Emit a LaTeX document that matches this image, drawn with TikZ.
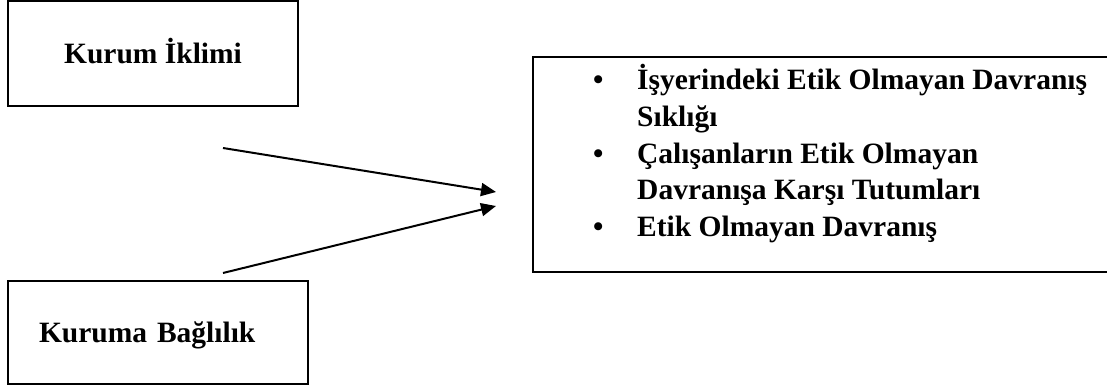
\documentclass[tikz,border=0pt]{standalone}
\usepackage{fontspec}
\setmainfont{Liberation Serif}
\usetikzlibrary{arrows.meta, positioning}
\newcommand{\labelfont}{\fontsize{29.5}{36.6}\selectfont\bfseries}
\tikzset{
  box/.style = {draw, line width=2pt, rectangle, inner sep=0pt,
    text height=20pt, text depth=0pt, font=\labelfont},
  arrow/.style = {-{Triangle[length=15pt, width=13pt]}, line width=2pt}
}

\begin{document}
\begin{tikzpicture}[x=1pt, y=1pt]
  \useasboundingbox (0,0) rectangle (1107,388);

  % Kurum Iklimi
  \node[box, minimum width=290pt, minimum height=105pt] (climate) at (153,334.5) {Kurum İklimi};

  % Kuruma Baglilik
  \node[box, minimum height=103pt, text width=238pt, inner xsep=31pt, align=left] (commitment) at (158,55.5) {Kuruma Bağlılık};

  % Outcome list, framed on three sides
  \coordinate (outcomes nw) at (533,331);
  \coordinate (outcomes sw) at (533,116);
  \coordinate (top end) at (1107,331);
  \coordinate (bottom end) at (1107,116);
  \draw[line width=2pt] (top end) -- (outcomes nw) -- (outcomes sw) -- (bottom end);
  \node[anchor=base west, inner sep=0pt, font=\labelfont] (outcomes) at (593,298) {%
    \begin{tabular}[t]{@{}p{44pt}@{}l@{}}
      \textbullet & İşyerindeki Etik Olmayan Davranış\\
      & Sıklığı\\
      \textbullet & Çalışanların Etik Olmayan\\
      & Davranışa Karşı Tutumları\\
      \textbullet & Etik Olmayan Davranış
    \end{tabular}};

  % Arrows
  \coordinate (climate out) at (223,240);
  \coordinate (commitment out) at (223,115);
  \coordinate (climate in) at (496,196);
  \coordinate (commitment in) at (496,182);
  \draw[arrow] (climate out) -- (climate in);
  \draw[arrow] (commitment out) -- (commitment in);

\end{tikzpicture}
\end{document}
